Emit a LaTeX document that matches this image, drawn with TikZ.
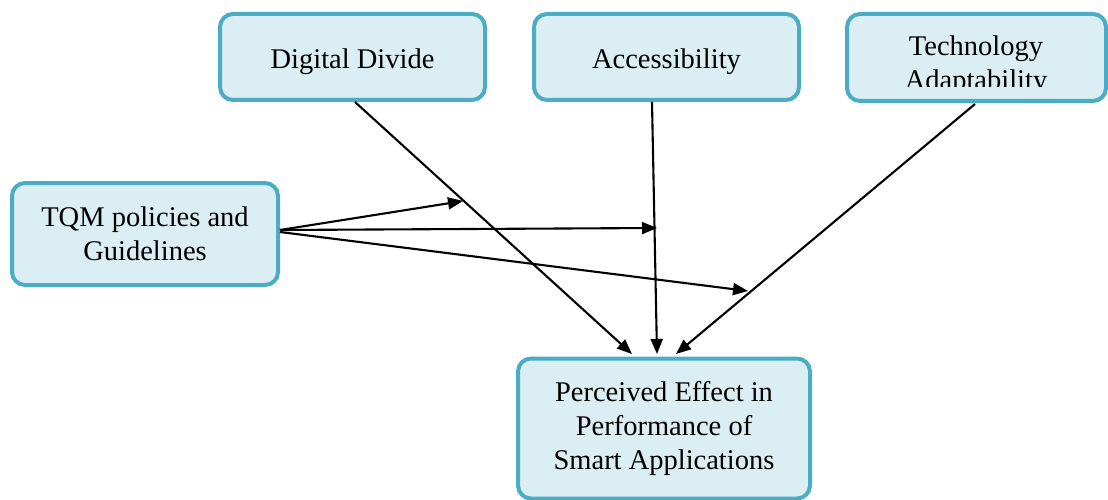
\documentclass[tikz,border=0pt]{standalone}
\usepackage{fontspec}
\setmainfont{Liberation Serif}
\usetikzlibrary{arrows.meta}
\definecolor{boxline}{HTML}{4BACC6}
\definecolor{boxfill}{HTML}{DBEEF3}
\begin{document}
\begin{tikzpicture}[x=1pt,y=-1pt,
  box/.style={draw=boxline, fill=boxfill, line width=4pt, rounded corners=13pt,
    align=center, inner sep=0pt, font=\fontsize{28.5}{34}\selectfont},
  txt/.style={align=center, inner sep=0pt, font=\fontsize{28.5}{34}\selectfont},
  link/.style={line width=2.1pt, -{Triangle[length=15pt,width=12pt]}}]
\useasboundingbox (0,0) rectangle (1108,500);
% boxes
\node[box, minimum width=265pt, minimum height=86pt] (dd) at (352.5,57) {\raisebox{-5pt}[\height][\depth]{Digital Divide}};
\node[box, minimum width=265pt, minimum height=86pt] (ac) at (666.5,57) {\raisebox{-5pt}[\height][\depth]{Accessibility}};
\node[box, minimum width=259pt, minimum height=87pt] (ta) at (976.5,57.5) {};
\begin{scope}
  \clip (849,16) rectangle (1104,87);
  \node[txt] (tatext) at (976,66) {Technology\\Adaptability};
\end{scope}
\node[box, minimum width=266pt, minimum height=102pt] (tqm) at (145,234) {TQM policies and\\Guidelines};
\node[box, minimum width=292pt, minimum height=140pt] (pe) at (664,428.5) {Perceived Effect in\\Performance of\\Smart Applications};
% connector endpoints
\coordinate (ddS) at (355,102);
\coordinate (acS) at (652,102);
\coordinate (taS) at (975,104);
\coordinate (pe1) at (632,354);
\coordinate (pe2) at (657,354);
\coordinate (pe3) at (676,354);
\coordinate (tqmE1) at (280,230);
\coordinate (tqmE2) at (280,232);
\coordinate (m1) at (463,201);
\coordinate (m2) at (657,228);
\coordinate (m3) at (748,291);
% connectors
\draw[link] (ddS) -- (pe1);
\draw[link] (acS) -- (pe2);
\draw[link] (taS) -- (pe3);
\draw[link] (tqmE1) -- (m1);
\draw[link] (tqmE1) -- (m2);
\draw[link] (tqmE2) -- (m3);
\end{tikzpicture}
\end{document}
